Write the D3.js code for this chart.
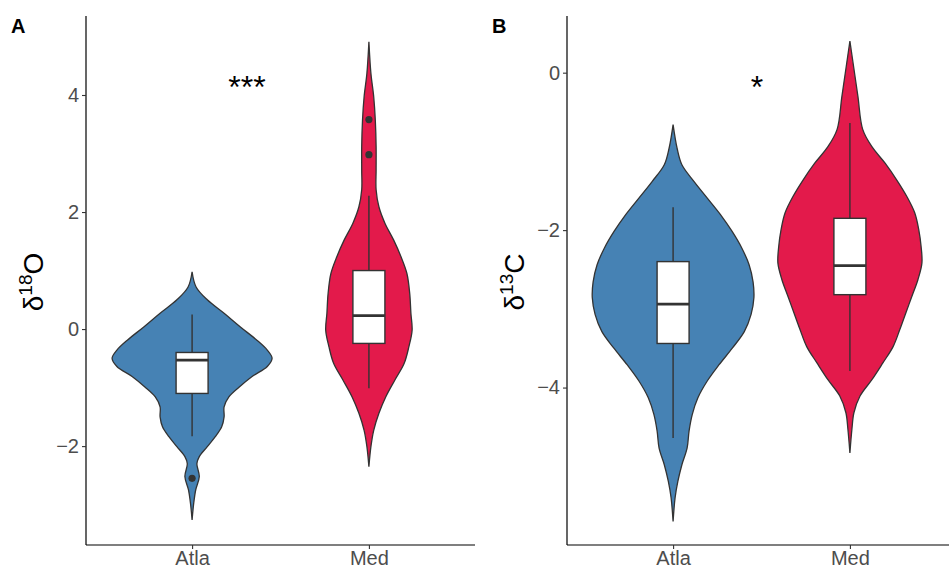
<!DOCTYPE html>
<html>
<head>
<meta charset="utf-8">
<script src="https://cdn.jsdelivr.net/npm/d3@7"></script>
<style>
  body { margin: 0; background: #fff; }
  text { font-family: "Liberation Sans", Arial, Helvetica, sans-serif; }
</style>
</head>
<body>
<svg id="chart" width="949" height="570"></svg>
<script>
var groups = ["Atla", "Med"];
var colors = ["#4682B4", "#E31A4B"];

// violin outlines: [value, relative density]
var o18Atla = [[0.98,0],[0.72,0.05],[0.50,0.19],[0.27,0.40],[0.04,0.60],[-0.19,0.81],[-0.36,0.94],[-0.50,1.0],
  [-0.64,0.94],[-0.81,0.75],[-0.99,0.59],[-1.16,0.46],[-1.33,0.40],[-1.50,0.40],[-1.67,0.37],[-1.84,0.29],
  [-2.01,0.19],[-2.18,0.09],[-2.30,0.06],[-2.52,0.09],[-2.75,0.045],[-2.98,0.02],[-3.26,0]];
var o18Med = [[4.91,0],[4.37,0.025],[3.97,0.06],[3.57,0.08],[3.12,0.09],[2.72,0.09],[2.38,0.09],[2.09,0.125],
  [1.81,0.20],[1.52,0.31],[1.24,0.40],[0.95,0.475],[0.61,0.51],[0.27,0.525],[-0.02,0.54],[-0.30,0.50],
  [-0.59,0.44],[-0.87,0.325],[-1.16,0.21],[-1.44,0.125],[-1.73,0.06],[-2.01,0.025],[-2.35,0]];
var c13Atla = [[-0.66,0],[-0.96,0.05],[-1.17,0.11],[-1.38,0.26],[-1.59,0.425],[-1.80,0.59],[-2.02,0.74],
  [-2.23,0.86],[-2.44,0.95],[-2.66,1.0],[-2.86,1.01],[-3.07,0.975],[-3.29,0.89],[-3.50,0.74],[-3.71,0.575],
  [-3.92,0.425],[-4.13,0.31],[-4.34,0.24],[-4.55,0.20],[-4.77,0.175],[-4.98,0.11],[-5.19,0.06],[-5.40,0.025],[-5.70,0]];
var c13Med = [[0.40,0],[0.12,0.04],[-0.30,0.10],[-0.72,0.16],[-0.94,0.275],[-1.15,0.44],[-1.37,0.59],
  [-1.57,0.71],[-1.78,0.81],[-1.99,0.86],[-2.21,0.89],[-2.42,0.90],[-2.63,0.85],[-2.84,0.775],[-3.05,0.70],
  [-3.26,0.625],[-3.48,0.54],[-3.69,0.41],[-3.90,0.275],[-4.11,0.125],[-4.32,0.05],[-4.53,0.025],[-4.83,0]];

// box stats: [lower whisker, q1, median, q3, upper whisker]
var o18Box = [[-1.83,-1.10,-0.53,-0.40,0.25],[-1.01,-0.245,0.23,1.0,2.28]];
var c13Box = [[-4.64,-3.44,-2.94,-2.40,-1.71],[-3.79,-2.82,-2.45,-1.85,-0.64]];
var o18Outliers = [[-2.55],[2.98,3.58]];
var c13Outliers = [[],[]];

var o18Ticks = [-2, 0, 2, 4];
var c13Ticks = [-4, -2, 0];

var svg = d3.select("#chart");
var ink = "#333333";

function drawPanel(opt){
  var g = svg.append("g");
  var x = d3.scalePoint().domain(groups).range(opt.xRange).padding(0.6);
  var y = d3.scaleLinear().domain(opt.yDomain).range([545, 16]);
  var w = d3.scaleLinear().domain([0, 1]).range([0, 80]);

  var area = d3.area()
    .curve(d3.curveCatmullRom.alpha(0.5))
    .y(function(d){ return y(d[0]); });

  opt.violins.forEach(function(v, i){
    var cx = x(groups[i]);
    area.x0(function(d){ return cx - w(d[1]); }).x1(function(d){ return cx + w(d[1]); });
    g.append("path")
      .attr("d", area(v))
      .attr("fill", colors[i])
      .attr("stroke", ink)
      .attr("stroke-width", 1.3);
  });

  var bw = 32;
  opt.boxes.forEach(function(b, i){
    var cx = x(groups[i]);
    g.append("line")
      .attr("x1", cx).attr("x2", cx)
      .attr("y1", y(b[0])).attr("y2", y(b[4]))
      .attr("stroke", ink).attr("stroke-width", 1.4);
    g.append("rect")
      .attr("x", cx - bw / 2).attr("width", bw)
      .attr("y", y(b[3])).attr("height", y(b[1]) - y(b[3]))
      .attr("fill", "#fff").attr("stroke", ink).attr("stroke-width", 1.4);
    g.append("line")
      .attr("x1", cx - bw / 2).attr("x2", cx + bw / 2)
      .attr("y1", y(b[2])).attr("y2", y(b[2]))
      .attr("stroke", ink).attr("stroke-width", 2.8);
    g.selectAll(null)
      .data(opt.outliers[i])
      .enter().append("circle")
      .attr("cx", cx).attr("cy", function(d){ return y(d); })
      .attr("r", 3.6).attr("fill", ink);
  });

  // axes
  var yAxis = g.append("g")
    .attr("transform", "translate(" + opt.xRange[0] + ",0)")
    .call(d3.axisLeft(y).tickValues(opt.ticks).tickSize(4).tickPadding(3)
      .tickFormat(function(d){ return d < 0 ? "\u2212" + Math.abs(d) : d; }));
  var xAxis = g.append("g")
    .attr("transform", "translate(0,545)")
    .call(d3.axisBottom(x).tickSize(4).tickPadding(2));
  [yAxis, xAxis].forEach(function(a){
    a.select(".domain").attr("stroke", "#000").attr("stroke-width", 1.2);
    a.selectAll(".tick line").attr("stroke", ink).attr("stroke-width", 1.1);
    a.selectAll(".tick text").attr("fill", "#4D4D4D")
      .style("font-family", "'Liberation Sans', Arial, sans-serif");
  });
  yAxis.select(".domain").attr("d", "M0," + 16 + "V545");
  xAxis.select(".domain").attr("d", "M" + opt.xRange[0] + ",0H" + opt.xRange[1]);
  yAxis.selectAll(".tick text").style("font-size", "20px");
  xAxis.selectAll(".tick text").style("font-size", "20px").attr("dy", "0.71em");

  // y title
  var t = g.append("text")
    .attr("transform", "translate(" + opt.titleX + ",282) rotate(-90)")
    .attr("text-anchor", "middle")
    .attr("fill", "#000")
    .style("font-size", "28px");
  t.append("tspan").text("\u03B4");
  t.append("tspan").text(opt.iso).style("font-size", "19px").attr("dy", "-11");
  t.append("tspan").text(opt.elem).attr("dy", "11");

  g.append("text")
    .attr("x", opt.letterX).attr("y", 33)
    .style("font-size", "20px").style("font-weight", "bold")
    .text(opt.letter);

  g.append("text")
    .attr("x", opt.starX).attr("y", 98)
    .attr("text-anchor", "middle")
    .style("font-size", "32px")
    .text(opt.stars);
}

drawPanel({
  xRange: [86, 475], yDomain: [-3.69, 5.35], ticks: o18Ticks,
  violins: [o18Atla, o18Med], boxes: o18Box, outliers: o18Outliers,
  iso: "18", elem: "O", titleX: 43, letter: "A", letterX: 11, stars: "***", starX: 247
});
drawPanel({
  xRange: [567, 956], yDomain: [-6.0, 0.72], ticks: c13Ticks,
  violins: [c13Atla, c13Med], boxes: c13Box, outliers: c13Outliers,
  iso: "13", elem: "C", titleX: 524, letter: "B", letterX: 492, stars: "*", starX: 757
});
</script>
</body>
</html>
